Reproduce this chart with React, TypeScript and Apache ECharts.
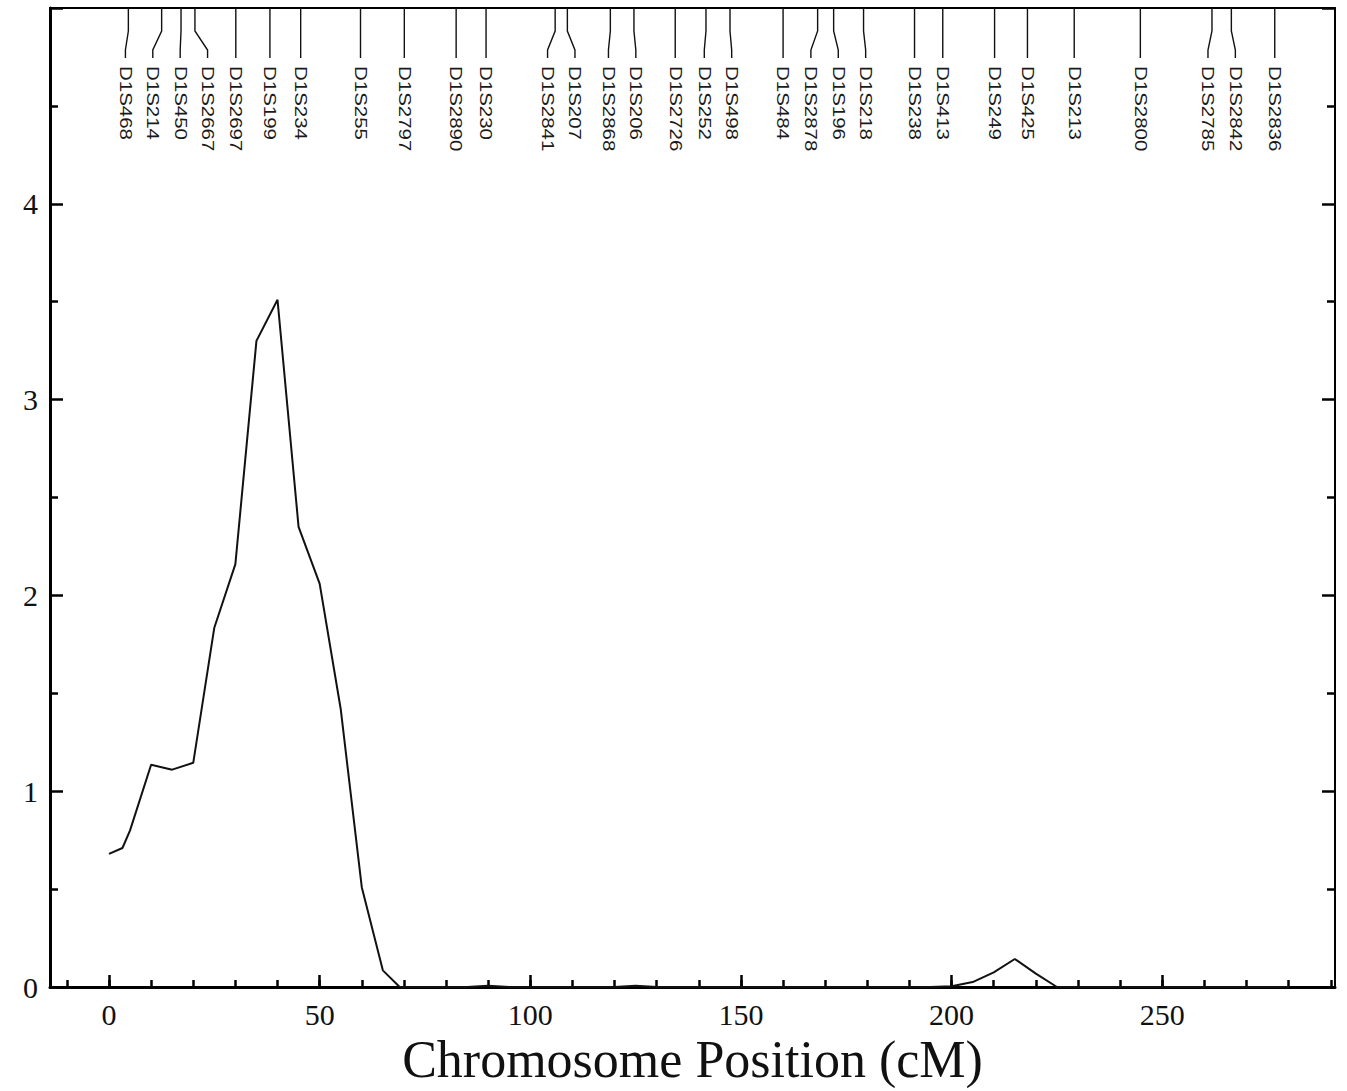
import React, { useEffect, useRef } from "react";
import * as echarts from "echarts";

// ---- data ----
const markerNames = [
  "D1S468", "D1S214", "D1S450", "D1S2667", "D1S2697", "D1S199", "D1S234", "D1S255",
  "D1S2797", "D1S2890", "D1S230", "D1S2841", "D1S207", "D1S2868", "D1S206", "D1S2726",
  "D1S252", "D1S498", "D1S484", "D1S2878", "D1S196", "D1S218", "D1S238", "D1S413",
  "D1S249", "D1S425", "D1S213", "D1S2800", "D1S2785", "D1S2842", "D1S2836",
];
const markerCM = [
  4.6, 12.5, 17.1, 20.4, 30.1, 38.2, 45.5, 59.7, 70.1, 82.4, 89.5, 105.9, 108.8, 119.0, 124.6, 134.4,
  141.7, 147.4, 160.0, 168.2, 172.0, 179.1, 191.2, 197.9, 210.2, 218.0, 229.1, 244.8, 261.8, 266.4, 276.7,
];

const positionCM = [
  0, 3.2, 5, 10, 15, 20, 25, 30, 35, 40, 45, 50, 55, 60, 65, 69, 75, 80, 85, 90, 95, 100, 105, 110,
  115, 120, 125, 130, 135, 140, 145, 150, 155, 160, 165, 170, 175, 180, 185, 190, 195, 200, 205, 210,
  215, 220, 225, 230, 235, 240, 245, 250, 255, 260, 265, 270, 275, 280,
];
const lodScore = [
  0.68, 0.71, 0.8, 1.135, 1.11, 1.145, 1.835, 2.16, 3.3, 3.51, 2.35, 2.06, 1.42, 0.51, 0.085, 0, 0, 0, 0, 0.006, 0, 0, 0, 0,
  0, 0, 0.006, 0, 0, 0, 0, 0, 0, 0, 0, 0, 0, 0, 0, 0, 0, 0.004, 0.025, 0.075,
  0.143, 0.068, 0, 0, 0, 0, 0, 0, 0, 0, 0, 0, 0, 0,
];

const xMajorTicks = [0, 50, 100, 150, 200, 250];
const xMinorTicks = [-10, 0, 10, 20, 30, 40, 50, 60, 70, 80, 90, 100, 110, 120, 130, 140, 150, 160, 170, 180, 190, 200, 210, 220, 230, 240, 250, 260, 270, 280, 290];

const X_MIN = -14;
const X_MAX = 291;
const Y_MIN = 0;
const Y_MAX = 5;

// spread overlapping marker labels apart (in cM), centred on each crowded group
function layoutLabels(pos: number[], gap: number): number[] {
  const groups: number[][] = [];
  const start = (g: number[]) => g.reduce((a, b) => a + b, 0) / g.length - ((g.length - 1) * gap) / 2;
  for (const p of pos) {
    groups.push([p]);
    while (groups.length > 1) {
      const cur = groups[groups.length - 1];
      const prev = groups[groups.length - 2];
      const prevEnd = start(prev) + (prev.length - 1) * gap;
      if (start(cur) - prevEnd < gap) {
        prev.push(...cur);
        groups.pop();
      } else break;
    }
  }
  const out: number[] = [];
  for (const g of groups) {
    const s = start(g);
    g.forEach((_, i) => out.push(s + i * gap));
  }
  return out;
}

const labelCM = layoutLabels(markerCM, 6.5);

const SERIF = "'Liberation Serif', 'Times New Roman', serif";
const SANS = "'Liberation Sans', Arial, sans-serif";

export default function App() {
  const ref = useRef<HTMLDivElement>(null);

  useEffect(() => {
    if (!ref.current) return;
    const chart = echarts.init(ref.current, null, { renderer: "svg" });

    const tickStyle = { color: "#000", width: 2.5 };

    const option: any = {
      animation: false,
      backgroundColor: "#fff",
      grid: { left: 50, right: 12, top: 8, bottom: 104 },
      xAxis: [
        {
          type: "value",
          position: "bottom",
          min: X_MIN,
          max: X_MAX,
          axisLine: { show: true, onZero: false, lineStyle: { color: "#000", width: 3 } },
          axisTick: { show: true, inside: true, length: 12, lineStyle: tickStyle, customValues: xMajorTicks },
          axisLabel: {
            customValues: xMajorTicks,
            fontFamily: SERIF,
            fontSize: 30,
            color: "#111",
            margin: 12,
          },
          splitLine: { show: false },
          name: "Chromosome Position (cM)",
          nameLocation: "middle",
          nameGap: 37,
          nameTextStyle: { fontFamily: SERIF, fontSize: 52, color: "#111" },
        },
        {
          type: "value",
          position: "bottom",
          min: X_MIN,
          max: X_MAX,
          axisLine: { show: false, onZero: false },
          axisTick: { show: true, inside: true, length: 7, lineStyle: tickStyle, customValues: xMinorTicks },
          axisLabel: { show: false },
          splitLine: { show: false },
        },
        {
          type: "value",
          position: "top",
          min: X_MIN,
          max: X_MAX,
          axisLine: { show: true, onZero: false, lineStyle: { color: "#000", width: 2 } },
          axisTick: { show: false },
          axisLabel: { show: false },
          splitLine: { show: false },
        },
      ],
      yAxis: [
        {
          type: "value",
          position: "left",
          min: Y_MIN,
          max: Y_MAX,
          interval: 1,
          axisLine: { show: true, onZero: false, lineStyle: { color: "#000", width: 3 } },
          axisTick: { show: true, inside: true, length: 13, lineStyle: tickStyle },
          minorTick: { show: true, splitNumber: 2, length: 8, lineStyle: tickStyle },
          axisLabel: {
            showMaxLabel: false,
            fontFamily: SERIF,
            fontSize: 30,
            color: "#111",
            margin: 12,
          },
          splitLine: { show: false },
          minorSplitLine: { show: false },
        },
        {
          type: "value",
          position: "right",
          min: Y_MIN,
          max: Y_MAX,
          interval: 1,
          axisLine: { show: true, onZero: false, lineStyle: { color: "#000", width: 2 } },
          axisTick: { show: true, inside: true, length: 13, lineStyle: tickStyle },
          minorTick: { show: true, splitNumber: 2, length: 8, lineStyle: tickStyle },
          axisLabel: { show: false },
          splitLine: { show: false },
          minorSplitLine: { show: false },
        },
      ],
      series: [
        {
          type: "line",
          xAxisIndex: 0,
          yAxisIndex: 0,
          data: positionCM.map((x, i) => [x, lodScore[i]]),
          showSymbol: false,
          symbol: "none",
          lineStyle: { color: "#111", width: 2 },
          z: 3,
        },
        {
          type: "custom",
          xAxisIndex: 0,
          yAxisIndex: 0,
          coordinateSystem: "cartesian2d",
          data: markerCM.map((m, i) => [m, labelCM[i]]),
          encode: { x: 0 },
          clip: false,
          z: 4,
          renderItem: (params: any, api: any) => {
            const m = api.value(0);
            const l = api.value(1);
            const top = api.coord([X_MIN, Y_MAX])[1];
            const px = api.coord([m, Y_MAX])[0];
            const lx = api.coord([l, Y_MAX])[0];
            return {
              type: "group",
              children: [
                {
                  type: "polyline",
                  shape: {
                    points: [
                      [px, top],
                      [px, top + 23],
                      [lx, top + 42],
                      [lx, top + 50],
                    ],
                  },
                  style: { stroke: "#111", lineWidth: 1.4, fill: null },
                },
                {
                  type: "text",
                  x: lx,
                  y: top + 58,
                  rotation: -Math.PI / 2,
                  scaleX: 1.28,
                  style: {
                    text: markerNames[params.dataIndex],
                    fontFamily: SANS,
                    fontSize: 16,
                    fill: "#1a1a1a",
                    align: "left",
                    verticalAlign: "middle",
                  },
                },
              ],
            };
          },
        },
      ],
    };

    chart.setOption(option);
    return () => chart.dispose();
  }, []);

  return (
    <div
      ref={ref}
      style={{ position: "absolute", left: 0, top: 0, width: 1347, height: 1091, background: "#fff" }}
    />
  );
}
